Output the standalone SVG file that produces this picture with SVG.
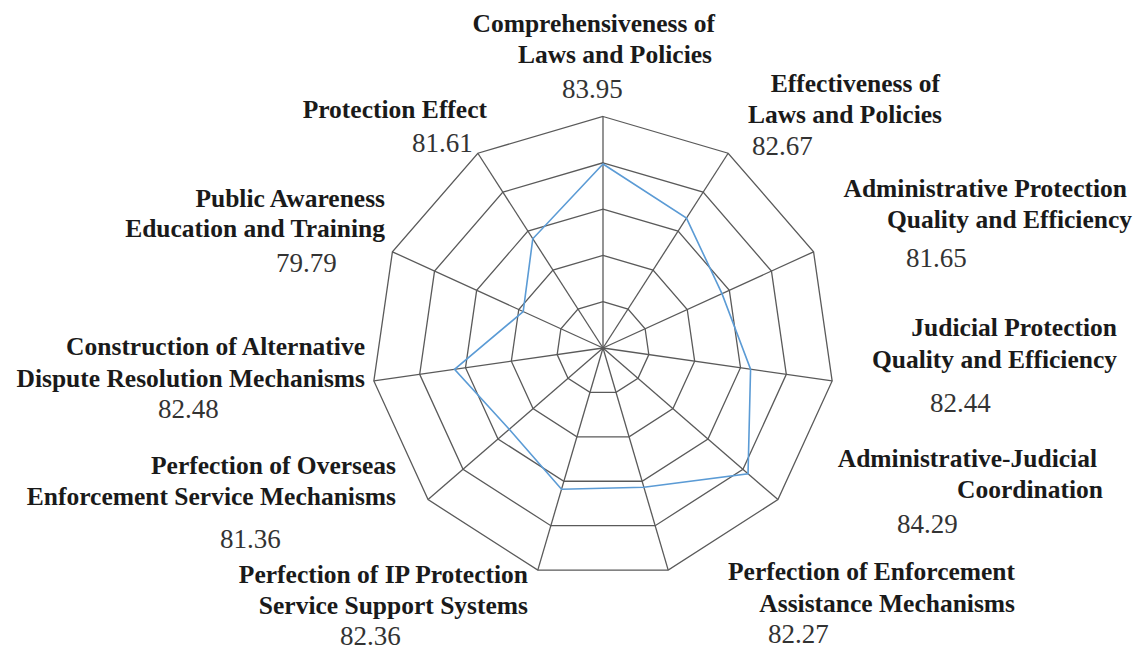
<svg xmlns="http://www.w3.org/2000/svg" width="1142" height="649" viewBox="0 0 1142 649">
<style>
.grid{fill:none;stroke:#5a5a5a;stroke-width:1.3;stroke-linejoin:miter}
.spoke{stroke:#5a5a5a;stroke-width:1.3}
.data{fill:none;stroke:#5b9bd5;stroke-width:1.6;stroke-linejoin:miter}
.lb{font-family:"Liberation Serif","Times New Roman",serif;font-weight:bold;font-size:25.5px;fill:#1a1a1a;text-anchor:end}
.num{font-family:"Liberation Serif","Times New Roman",serif;font-size:27px;fill:#333333}
</style>
<rect width="1142" height="649" fill="#ffffff"/>
<g id="chart" transform="translate(603,348)">
<g id="rings">
<polygon class="grid" points="0,-46.3 25.03,-38.95 42.11,-19.23 45.83,6.59 34.99,30.32 13.04,44.42 -13.04,44.42 -34.99,30.32 -45.83,6.59 -42.11,-19.23 -25.03,-38.95"/>
<polygon class="grid" points="0,-92.6 50.06,-77.9 84.23,-38.47 91.66,13.18 69.98,60.64 26.09,88.85 -26.09,88.85 -69.98,60.64 -91.66,13.18 -84.23,-38.47 -50.06,-77.9"/>
<polygon class="grid" points="0,-138.9 75.09,-116.86 126.34,-57.7 137.48,19.77 104.97,90.97 39.13,133.27 -39.13,133.27 -104.97,90.97 -137.48,19.77 -126.34,-57.7 -75.09,-116.86"/>
<polygon class="grid" points="0,-185.2 100.12,-155.81 168.46,-76.93 183.31,26.35 139.96,121.29 52.17,177.7 -52.17,177.7 -139.96,121.29 -183.31,26.35 -168.46,-76.93 -100.12,-155.81"/>
<polygon class="grid" points="0,-231.5 125.15,-194.76 210.57,-96.17 229.14,32.94 174.94,151.61 65.21,222.12 -65.21,222.12 -174.94,151.61 -229.14,32.94 -210.57,-96.17 -125.15,-194.76"/>
</g>
<g id="spokes">
<line class="spoke" x1="0" y1="0" x2="0" y2="-231.5"/>
<line class="spoke" x1="0" y1="0" x2="125.15" y2="-194.76"/>
<line class="spoke" x1="0" y1="0" x2="210.57" y2="-96.17"/>
<line class="spoke" x1="0" y1="0" x2="229.14" y2="32.94"/>
<line class="spoke" x1="0" y1="0" x2="174.94" y2="151.61"/>
<line class="spoke" x1="0" y1="0" x2="65.21" y2="222.12"/>
<line class="spoke" x1="0" y1="0" x2="-65.21" y2="222.12"/>
<line class="spoke" x1="0" y1="0" x2="-174.94" y2="151.61"/>
<line class="spoke" x1="0" y1="0" x2="-229.14" y2="32.94"/>
<line class="spoke" x1="0" y1="0" x2="-210.57" y2="-96.17"/>
<line class="spoke" x1="0" y1="0" x2="-125.15" y2="-194.76"/>
</g>
<polygon id="series" class="data" points="0,-184.04 83.47,-129.9 118.98,-54.33 147.57,21.22 145.03,125.68 40.89,139.27 -41.48,141.27 -93.77,81.26 -148.48,21.35 -79.81,-36.45 -70.21,-109.26"/>
</g>
<g id="label-comprehensiveness">
<text class="lb" x="715" y="32">Comprehensiveness of</text>
<text class="lb" x="712" y="63">Laws and Policies</text>
<text class="num" x="562" y="98">83.95</text>
</g>
<g id="label-effectiveness">
<text class="lb" x="940" y="92">Effectiveness of</text>
<text class="lb" x="942" y="123">Laws and Policies</text>
<text class="num" x="752" y="155">82.67</text>
</g>
<g id="label-admin-protection">
<text class="lb" x="1127" y="197">Administrative Protection</text>
<text class="lb" x="1132" y="228">Quality and Efficiency</text>
<text class="num" x="906" y="267">81.65</text>
</g>
<g id="label-judicial">
<text class="lb" x="1117" y="336">Judicial Protection</text>
<text class="lb" x="1117" y="368">Quality and Efficiency</text>
<text class="num" x="930" y="412">82.44</text>
</g>
<g id="label-coordination">
<text class="lb" x="1097" y="467">Administrative-Judicial</text>
<text class="lb" x="1103" y="498">Coordination</text>
<text class="num" x="897" y="533">84.29</text>
</g>
<g id="label-enforcement-assistance">
<text class="lb" x="1015" y="580">Perfection of Enforcement</text>
<text class="lb" x="1015" y="612">Assistance Mechanisms</text>
<text class="num" x="768" y="643">82.27</text>
</g>
<g id="label-ip-service">
<text class="lb" x="528" y="583">Perfection of IP Protection</text>
<text class="lb" x="528" y="614">Service Support Systems</text>
<text class="num" x="340" y="645">82.36</text>
</g>
<g id="label-overseas">
<text class="lb" x="396" y="474">Perfection of Overseas</text>
<text class="lb" x="396" y="505">Enforcement Service Mechanisms</text>
<text class="num" x="220" y="548">81.36</text>
</g>
<g id="label-adr">
<text class="lb" x="365" y="355">Construction of Alternative</text>
<text class="lb" x="365" y="387">Dispute Resolution Mechanisms</text>
<text class="num" x="158" y="418">82.48</text>
</g>
<g id="label-public-awareness">
<text class="lb" x="385" y="207">Public Awareness</text>
<text class="lb" x="385" y="237">Education and Training</text>
<text class="num" x="276" y="272">79.79</text>
</g>
<g id="label-protection-effect">
<text class="lb" x="487" y="118">Protection Effect</text>
<text class="num" x="412" y="152">81.61</text>
</g>
</svg>
